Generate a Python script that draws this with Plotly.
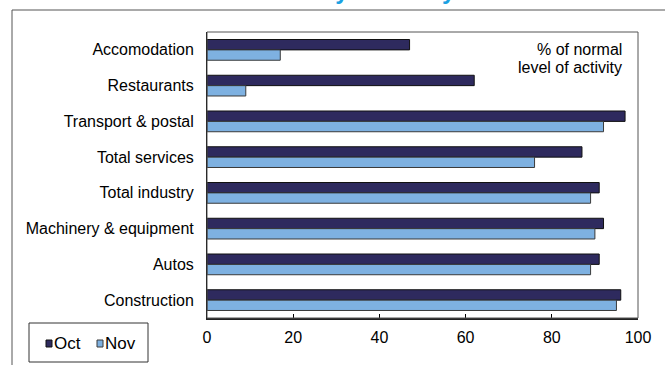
import plotly.graph_objects as go

categories = ["Accomodation", "Restaurants", "Transport & postal", "Total services",
              "Total industry", "Machinery & equipment", "Autos", "Construction"]
oct_vals = [47, 62, 97, 87, 91, 92, 91, 96]
nov_vals = [17, 9, 92, 76, 89, 90, 89, 95]
series_names = ["Oct", "Nov"]
x_ticks = [0, 20, 40, 60, 80, 100]

OCT_COLOR = "#2E2A5E"
NOV_COLOR = "#7EB1E1"
FONT = "Liberation Sans, Arial, sans-serif"

W, H = 665, 365
L, R, T, B = 207, 27, 32, 47
PW, PH = W - L - R, H - T - B


def px(x):
    return (x - L) / PW


def py(y):
    return (H - B - y) / PH


fig = go.Figure()
fig.add_trace(go.Bar(y=categories, x=oct_vals, name=series_names[0], orientation="h",
                     marker=dict(color=OCT_COLOR, line=dict(color="#111111", width=1)),
                     showlegend=False))
fig.add_trace(go.Bar(y=categories, x=nov_vals, name=series_names[1], orientation="h",
                     marker=dict(color=NOV_COLOR, line=dict(color="#3a3a3a", width=1)),
                     showlegend=False))

shapes = [
    # plot border (top/right)
    dict(type="rect", xref="paper", yref="paper", x0=0, x1=1, y0=0, y1=1,
         line=dict(color="#555555", width=1), layer="above"),
    # outer frame
    dict(type="rect", xref="paper", yref="paper", x0=px(12), x1=1.3, y0=py(10), y1=-0.5,
         line=dict(color="#555555", width=1)),
    # legend box
    dict(type="rect", xref="paper", yref="paper", x0=px(29), x1=px(148), y0=py(323), y1=py(362),
         line=dict(color="#333333", width=1)),
    # legend swatches
    dict(type="rect", xref="paper", yref="paper", x0=px(46), x1=px(52), y0=py(340), y1=py(347),
         fillcolor=OCT_COLOR, line=dict(color="#111111", width=1)),
    dict(type="rect", xref="paper", yref="paper", x0=px(97), x1=px(103), y0=py(340), y1=py(347),
         fillcolor=NOV_COLOR, line=dict(color="#3a3a3a", width=1)),
]

annotations = [
    dict(text="% of normal", xref="paper", yref="paper", x=px(624), y=py(49),
         xanchor="right", yanchor="middle", showarrow=False,
         font=dict(family=FONT, size=16, color="#000000")),
    dict(text="level of activity", xref="paper", yref="paper", x=px(624), y=py(67),
         xanchor="right", yanchor="middle", showarrow=False,
         font=dict(family=FONT, size=16, color="#000000")),
    dict(text=series_names[0], xref="paper", yref="paper", x=px(52), y=py(343),
         xanchor="left", yanchor="middle", showarrow=False,
         font=dict(family=FONT, size=17, color="#000000")),
    dict(text=series_names[1], xref="paper", yref="paper", x=px(103), y=py(343),
         xanchor="left", yanchor="middle", showarrow=False,
         font=dict(family=FONT, size=17, color="#000000")),
    # title, mostly cut off above the visible area
    dict(text="<b>Activity recovery</b>", xref="paper", yref="paper", x=px(359), y=1,
         xanchor="center", yanchor="bottom", yshift=26, showarrow=False,
         font=dict(family=FONT, size=24, color="#1BA1E2")),
]

fig.update_layout(
    width=W, height=H,
    margin=dict(l=L, r=R, t=T, b=B, pad=0),
    paper_bgcolor="white", plot_bgcolor="white",
    barmode="group", bargap=0.42, bargroupgap=0,
    font=dict(family=FONT, size=16, color="#000000"),
    shapes=shapes, annotations=annotations,
    showlegend=False,
)
fig.update_xaxes(range=[0, 100], tickvals=x_ticks, ticks="inside", ticklen=4,
                 tickcolor="#000000", showgrid=False, zeroline=False,
                 showline=True, linecolor="#222222", linewidth=2,
                 tickfont=dict(family=FONT, size=16), ticklabelstandoff=4)
fig.update_yaxes(autorange="reversed", ticks="", showgrid=False, zeroline=False,
                 showline=True, linecolor="#000000", linewidth=1,
                 tickfont=dict(family=FONT, size=16), ticklabelstandoff=9)

fig.write_html("out.html")
